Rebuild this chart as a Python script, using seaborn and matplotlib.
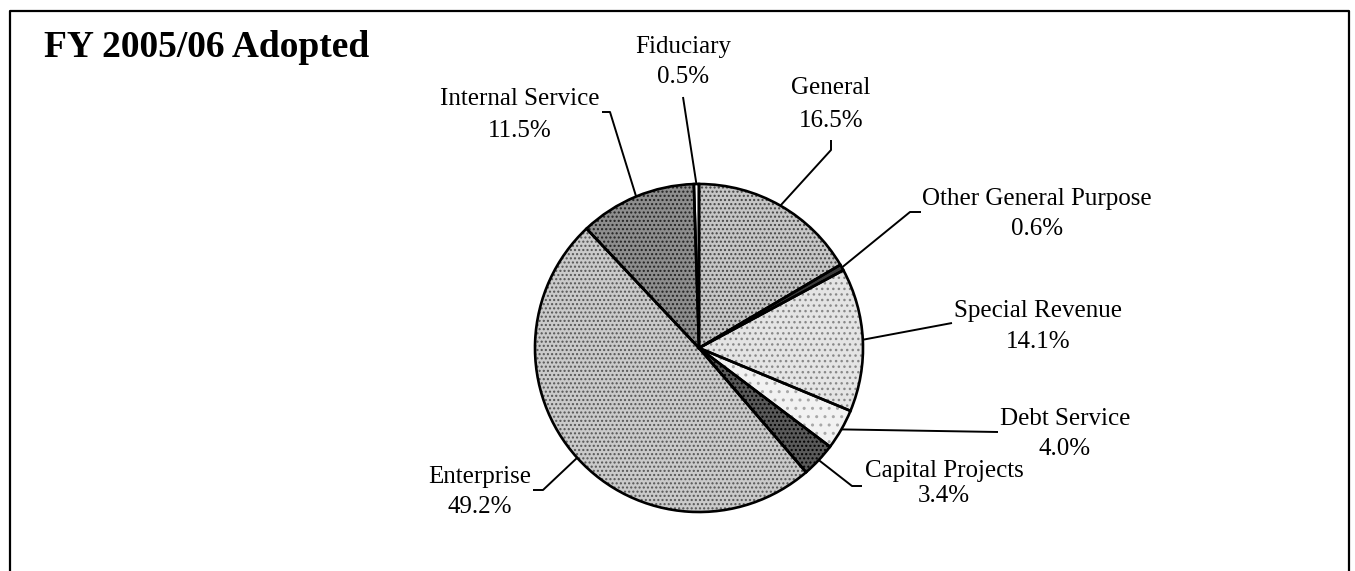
import matplotlib
matplotlib.use("Agg")
import matplotlib.pyplot as plt
import seaborn as sns
import numpy as np

# ---- data ----
funds = ["General", "Other General Purpose", "Special Revenue", "Debt Service",
         "Capital Projects", "Enterprise", "Internal Service", "Fiduciary"]
shares = [16.5, 0.6, 14.1, 4.0, 3.4, 49.2, 11.5, 0.5]
pct_labels = ["16.5%", "0.6%", "14.1%", "4.0%", "3.4%", "49.2%", "11.5%", "0.5%"]
title = "FY 2005/06 Adopted"

# ---- style ----
sns.set_theme(style="white")
plt.rcParams["font.family"] = ["Liberation Serif", "DejaVu Serif"]
plt.rcParams["hatch.linewidth"] = 1.0

W, H = 1355, 571
fig = plt.figure(figsize=(W / 100, H / 100), dpi=100)
ax = fig.add_axes([0, 0, 1, 1])

def Y(py):
    return H - py

cx, cy, r = 699, Y(348), 164

faces = ["#c6c6c6", "#3a3a3a", "#e4e4e4", "#f2f2f2", "#5a5a5a", "#cacaca", "#8e8e8e", "white"]
hatches = ["....", None, "...", "..", "....", "....", "....", None]
hcols = ["#444444", "#000000", "#888888", "#a8a8a8", "#000000", "#555555", "#222222", "white"]

wedges, _ = ax.pie(shares, startangle=90, counterclock=False, center=(cx, cy),
                   radius=r, colors=faces, wedgeprops=dict(linewidth=0))
for w, h, hc in zip(wedges, hatches, hcols):
    w.set_edgecolor(hc)
    if h:
        w.set_hatch(h)
outline, _ = ax.pie(shares, startangle=90, counterclock=False, center=(cx, cy),
                    radius=r, wedgeprops=dict(fill=False, edgecolor="black", linewidth=1.9))

# ---- label layout (pixel coords, y downwards) ----
layout = {
    "General":               dict(tx=831,  base=94,  gap=33, path=[(831, 140), (831, 150)]),
    "Other General Purpose": dict(tx=1037, base=205, gap=30, path=[(921, 212), (910, 212)]),
    "Special Revenue":       dict(tx=1038, base=317, gap=31, path=[(952, 323)]),
    "Debt Service":          dict(tx=1065, base=425, gap=30, path=[(998, 432)]),
    "Capital Projects":      dict(tx=944,  base=477, gap=25, path=[(862, 486), (852, 486)]),
    "Enterprise":            dict(tx=480,  base=483, gap=30, path=[(533, 490), (543, 490)]),
    "Internal Service":      dict(tx=520,  base=105, gap=32, path=[(602, 112), (610, 112)]),
    "Fiduciary":             dict(tx=683,  base=53,  gap=30, path=[(683, 97)]),
}

for w, name, pct in zip(outline, funds, pct_labels):
    L = layout[name]
    mid = np.deg2rad((w.theta1 + w.theta2) / 2)
    ex, ey = cx + r * np.cos(mid), cy + r * np.sin(mid)
    xs = [p[0] for p in L["path"]] + [ex]
    ys = [Y(p[1]) for p in L["path"]] + [ey]
    ax.plot(xs, ys, color="black", lw=1.4, solid_capstyle="butt")
    ax.text(L["tx"], Y(L["base"]), name, ha="center", va="baseline", fontsize=18, color="black")
    ax.text(L["tx"], Y(L["base"] + L["gap"]), pct, ha="center", va="baseline", fontsize=18, color="black")

ax.text(44, Y(57), title, ha="left", va="baseline", fontsize=27, fontweight="bold", color="black")

# frame (open at the bottom)
ax.plot([10, 10, 1349, 1349], [0, Y(11), Y(11), 0], color="black", lw=1.6)

ax.set_xlim(0, W)
ax.set_ylim(0, H)
ax.set_aspect("equal")
ax.axis("off")

fig.savefig("out.png", dpi=100)
